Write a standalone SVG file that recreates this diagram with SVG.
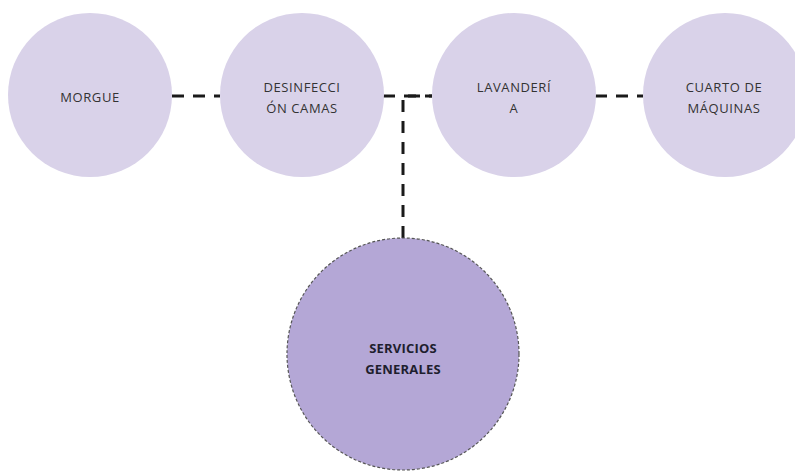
<svg xmlns="http://www.w3.org/2000/svg" width="795" height="472" viewBox="0 0 795 472">
  <style>
    .area { fill: #d9d2e9; }
    .main { fill: #b4a7d6; stroke: #555; stroke-width: 1.2; stroke-dasharray: 3 2; }
    .label { font-family: "Open Sans", "Liberation Sans", sans-serif; font-size: 13px; letter-spacing: 0.6px; fill: #333333; text-anchor: middle; }
    .bold { font-weight: bold; fill: #1e1e2e; letter-spacing: 0.2px; }
    .link { fill: none; stroke: #1a1a1a; stroke-width: 3; stroke-dasharray: 12 9; }
  </style>
  <rect width="795" height="472" fill="#ffffff"/>

  <g id="connectors">
    <line class="link" x1="172" y1="96" x2="220" y2="96"/>
    <line class="link" x1="383" y1="96" x2="432" y2="96"/>
    <line class="link" x1="595" y1="96" x2="643" y2="96"/>
    <polyline class="link" points="403,238 403,96 432,96"/>
  </g>

  <g id="morgue">
    <circle class="area" cx="90" cy="95" r="82"/>
    <text class="label" x="90" y="102">MORGUE</text>
  </g>

  <g id="desinfeccion">
    <circle class="area" cx="302" cy="95" r="82"/>
    <text class="label" x="302" y="92">DESINFECCI</text>
    <text class="label" x="302" y="113">ÓN CAMAS</text>
  </g>

  <g id="lavanderia">
    <circle class="area" cx="514" cy="95" r="82"/>
    <text class="label" x="514" y="92">LAVANDERÍ</text>
    <text class="label" x="514" y="113">A</text>
  </g>

  <g id="cuarto-maquinas">
    <circle class="area" cx="725" cy="95" r="82"/>
    <text class="label" x="724" y="92">CUARTO DE</text>
    <text class="label" x="724" y="113">MÁQUINAS</text>
  </g>

  <g id="servicios-generales">
    <circle class="main" cx="403" cy="354" r="116"/>
    <text class="label bold" x="403" y="353">SERVICIOS</text>
    <text class="label bold" x="403" y="374">GENERALES</text>
  </g>
</svg>
